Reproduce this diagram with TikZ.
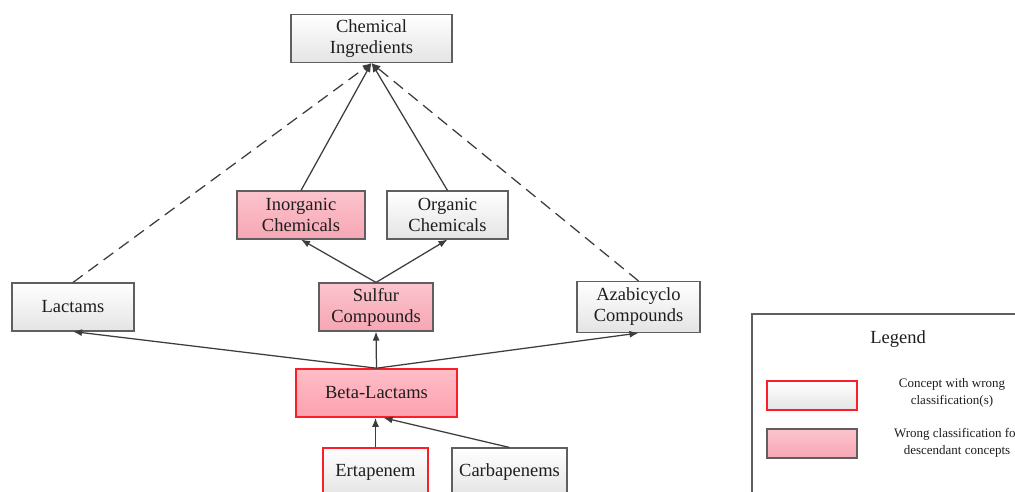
\documentclass[tikz,border=0pt]{standalone}
\usepackage{fontspec}
\setmainfont{Liberation Serif}
\usetikzlibrary{arrows.meta,calc}
\definecolor{inkc}{RGB}{30,30,30}
\definecolor{edgec}{RGB}{60,60,60}
\definecolor{framec}{RGB}{95,95,95}
\definecolor{redc}{RGB}{250,30,40}
\definecolor{pinktop}{RGB}{252,196,205}
\definecolor{pinkbot}{RGB}{246,166,181}
\definecolor{greytop}{RGB}{255,255,255}
\definecolor{greybot}{RGB}{228,228,228}
\tikzset{
  concept/.style={draw=framec, line width=1.1pt, top color=greytop, bottom color=greybot,
    text=inkc, align=center, inner sep=0pt,
    font=\fontsize{18.5}{21}\selectfont},
  flagged/.style={concept, top color=pinktop, bottom color=pinkbot},
  wrongbox/.style={draw=redc, line width=1.6pt},
  link/.style={draw=edgec, line width=1.25pt, -{Latex[length=9pt,width=7pt]}},
  dashlink/.style={link, dash pattern=on 12pt off 7pt},
}
\begin{document}
\begin{tikzpicture}[x=1pt,y=-1pt]
\useasboundingbox (0,0) rectangle (1015,492);
\clip (0,0) rectangle (1015,492);
\fill[white] (0,0) rectangle (1015,492);

% concept boxes
\node[concept, minimum width=161pt, minimum height=48pt] (ci) at (371.5,38.5) {Chemical\\Ingredients};
\node[flagged, minimum width=128pt, minimum height=48pt] (inorg) at (301,215) {Inorganic\\Chemicals};
\node[concept, minimum width=121pt, minimum height=48pt] (org) at (447.5,215) {Organic\\Chemicals};
\node[concept, minimum width=122pt, minimum height=48pt] (lact) at (73,307) {Lactams};
\node[flagged, minimum width=114pt, minimum height=48pt] (sulf) at (376,307) {Sulfur\\Compounds};
\node[concept, minimum width=123pt, minimum height=51pt] (aza) at (638.5,307) {Azabicyclo\\Compounds};
\node[flagged, wrongbox, top color={rgb,255:red,255;green,190;blue,200}, bottom color={rgb,255:red,253;green,160;blue,176},
      minimum width=161pt, minimum height=48pt] (bl) at (376.5,393) {Beta-Lactams};
\node[concept, wrongbox, minimum width=105pt, minimum height=48pt] (erta) at (375.5,472) {Ertapenem};
\node[concept, minimum width=115pt, minimum height=48pt] (carb) at (509.5,472) {Carbapenems};

% subclass links
\draw[dashlink] (lact.north) -- (ci.south);
\draw[link] (inorg.north) -- (ci.south);
\draw[link] (org.north) -- (ci.south);
\draw[dashlink] (aza.north) -- (ci.south);
\draw[link] (sulf.north) -- (inorg.south);
\draw[link] (sulf.north) -- (org.south);
\draw[link] (bl.north) -- (lact.south);
\draw[link] (bl.north) -- (sulf.south);
\draw[link] (bl.north) -- (aza.south);
\draw[link] (erta.north) -- (erta.north |- bl.south);
\draw[link] (carb.north) -- ($(bl.south)+(7,0)$);

% legend
\node[draw=framec, line width=1.5pt, fill=white, minimum width=300pt, minimum height=220pt, anchor=north west] (legend) at (751,313) {};
\node[text=inkc, font=\fontsize{18.5}{21}\selectfont] (legtitle) at (898,339) {Legend};
\node[concept, wrongbox, minimum width=90pt, minimum height=29pt] (keya) at (812,395.5) {};
\node[flagged, minimum width=90pt, minimum height=29pt] (keyb) at (812,443.5) {};
\node[text=inkc, align=center, font=\fontsize{13}{17}\selectfont] (keyatext) at (952,393) {Concept with wrong\\classification(s)};
\node[text=inkc, align=center, font=\fontsize{13}{17}\selectfont] (keybtext) at (957,443) {Wrong classification for\\descendant concepts};
\end{tikzpicture}
\end{document}
